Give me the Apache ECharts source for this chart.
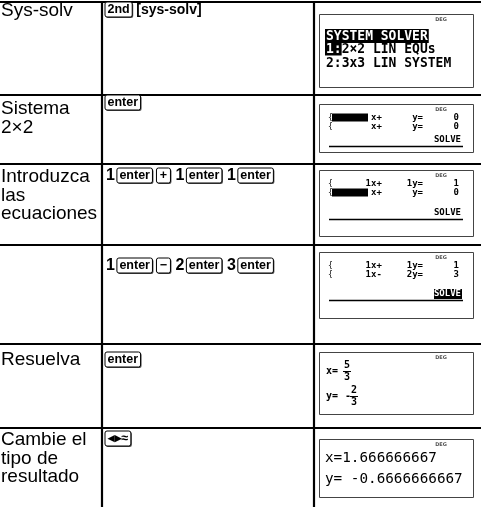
<!DOCTYPE html>
<html><head><meta charset="utf-8">
<script src="https://cdn.jsdelivr.net/npm/echarts@6/dist/echarts.min.js"></script>
<style>html,body{margin:0;padding:0;background:#fff}#c{width:481px;height:507px}</style>
</head><body><div id="c"></div>
<script>
// ---- content ----
const labels = [["Sys-solv"], ["Sistema", "2×2"], ["Introduzca", "las", "ecuaciones"], [], ["Resuelva"], ["Cambie el", "tipo de", "resultado"]];
const keys1 = [["key", "2nd"], ["br", "[sys-solv]"]];
const keys2 = [["key", "enter"]];
const keys3 = [["num", "1"], ["key", "enter"], ["key", "+"], ["num", "1"], ["key", "enter"], ["num", "1"], ["key", "enter"]];
const keys4 = [["num", "1"], ["key", "enter"], ["key", "−"], ["num", "2"], ["key", "enter"], ["num", "3"], ["key", "enter"]];
const keys5 = [["key", "enter"]];
const keys6 = [["key", "◂▸≈"]];
const menuTitle = "SYSTEM SOLVER";
const menuItems = [["1:", "2×2 LIN EQUs"], ["2:", "3x3 LIN SYSTEM"]];
const eqA = [["", "x+", "y=", "0"], ["", "x+", "y=", "0"]];
const eqB = [["1", "x+", "1y=", "1"], ["", "x+", "y=", "0"]];
const eqC = [["1", "x+", "1y=", "1"], ["1", "x-", "2y=", "3"]];
const fracX = ["x=", "", "5", "3"];
const fracY = ["y=", "-", "2", "3"];
const decimals = ["x=1.666666667", "y= -0.6666666667"];

// ---- layout ----
const W = 481, H = 507;
const rowTops = [2, 95, 164, 245, 344, 428];
const labelY = [11, 109, 177, 0, 360, 440];
const keyY = [10, 103, 176, 266, 360, 439];
const colA = 102, colB = 314;
const LFONT = "19px 'Liberation Sans'";
const KFONT = "bold 12.5px 'Liberation Sans'";
const NFONT = "bold 16px 'Liberation Sans'";
const SFONT = "bold 13px 'DejaVu Sans Mono'";
const ctx = document.createElement('canvas').getContext('2d');
function tw(t, f) { ctx.font = f; return ctx.measureText(t).width; }

const g = [];
function line(x1, y1, x2, y2, w, c) { g.push({ type: 'line', shape: { x1, y1, x2, y2 }, style: { stroke: c || '#000', lineWidth: w } }); }
function rect(x, y, w, h, fill, stroke, lw, r) { g.push({ type: 'rect', shape: { x, y, width: w, height: h, r: r || 0 }, style: { fill: fill || null, stroke: stroke || null, lineWidth: lw || 1 } }); }
function text(t, x, y, font, fill, align, extra) { g.push(Object.assign({ type: 'text', x, y, style: { text: t, font, fill: fill || '#000', textAlign: align || 'left', textVerticalAlign: 'middle' } }, extra || {})); }

// grid
rowTops.forEach(y => line(0, y, W, y, 2.2));
line(colA, 1, colA, H, 2.2);
line(colB, 1, colB, H, 2.2);

// labels
labels.forEach((ls, i) => ls.forEach((t, j) => text(t, 1, labelY[i] + j * 18.5, LFONT)));

// keys
function keyRow(seq, y) {
  let x = 105;
  seq.forEach(([kind, t]) => {
    if (kind === 'num') { text(t, x + 1, y, NFONT); x += tw(t, NFONT) + 3; }
    else if (kind === 'br') { text(t, x, y, "bold 14px 'Liberation Sans'"); x += tw(t, "bold 14px 'Liberation Sans'") + 6; }
    else {
      const w = Math.max(14, tw(t, KFONT) + 5);
      rect(x + 1, y - 7, w, 15, '#555', null, 0, 2);
      rect(x, y - 8, w, 15, '#fff', '#000', 1, 2);
      text(t, x + w / 2, y, KFONT, '#000', 'center');
      x += w + 4;
    }
  });
}
[keys1, keys2, keys3, keys4, keys5, keys6].forEach((k, i) => keyRow(k, keyY[i]));

// screens
const sx = 319, sw = 154;
function screen(y, h) { rect(sx + 0.5, y + 0.5, sw, h, '#fff', '#444', 1); text('DEG', sx + 122, y + 6, "bold 5px 'DejaVu Sans'", '#555', 'center'); }

// screen 1
screen(14, 73);
(function () {
  const y0 = 36, lh = 13.5;
  const sc = { scaleY: 1.1 };
  const wT = tw(menuTitle, SFONT);
  rect(sx + 6, y0 - 7, wT + 2, 14, '#000');
  text(menuTitle, sx + 7, y0, SFONT, '#fff', 'left', sc);
  menuItems.forEach(([n, t], i) => {
    const yy = y0 + (i + 1) * lh;
    if (i === 0) { rect(sx + 6, yy - 7, tw(n, SFONT) + 1, 13, '#000'); text(n, sx + 7, yy, SFONT, '#fff', 'left', sc); }
    else text(n, sx + 7, yy, SFONT, '#000', 'left', sc);
    text(t, sx + 7 + tw(n, SFONT), yy, SFONT, '#000', 'left', sc);
  });
})();

const EFONT = "bold 9px 'DejaVu Sans Mono'";
function eqScreen(y, h, so, rows, cursor, solveInv) {
  screen(y, h);
  rows.forEach((r, i) => {
    const yy = y + 13.5 + i * 9;
    text('{', sx + 9, yy, "8px 'DejaVu Sans Mono'", '#000');
    if (i === cursor) rect(sx + 13, yy - 4, 36, 8, '#000');
    text(r[0], sx + 52, yy, EFONT, '#000', 'right');
    text(r[1], sx + 52, yy, EFONT);
    text(r[2], sx + 104, yy, EFONT, '#000', 'right');
    text(r[3], sx + 140, yy, EFONT, '#000', 'right');
  });
  const ys = y + so;
  if (solveInv) rect(sx + 115, ys - 5, 28, 10, '#000');
  text('SOLVE', sx + 142, ys, EFONT, solveInv ? '#fff' : '#000', 'right');
  line(sx + 10, ys + 6.5, sx + 144, ys + 6.5, 1.5);
}
eqScreen(104, 48, 36, eqA, 0, false);
eqScreen(170, 66, 43, eqB, 1, false);
eqScreen(252, 66, 42, eqC, -1, true);

// screen 5 fractions
screen(352, 62);
[fracX, fracY].forEach((f, i) => {
  const yy = 371 + i * 25;
  const F = "bold 10px 'DejaVu Sans Mono'";
  const fx = i === 0 ? sx + 28 : sx + 35;
  text(f[0], sx + 7, yy, F);
  text(f[1], sx + 26, yy, F);
  text(f[2], fx, yy - 6, F, '#000', 'center');
  line(fx - 4, yy + 0.5, fx + 4, yy + 0.5, 1);
  text(f[3], fx, yy + 6, F, '#000', 'center');
});

// screen 6 decimals
screen(439, 58);
decimals.forEach((t, i) => text(t, sx + 6, 458 + i * 21, "14.3px 'DejaVu Sans Mono'"));

const chart = echarts.init(document.getElementById('c'), null, { renderer: 'canvas' });
chart.setOption({ animation: false, graphic: { elements: g } });
</script></body></html>
